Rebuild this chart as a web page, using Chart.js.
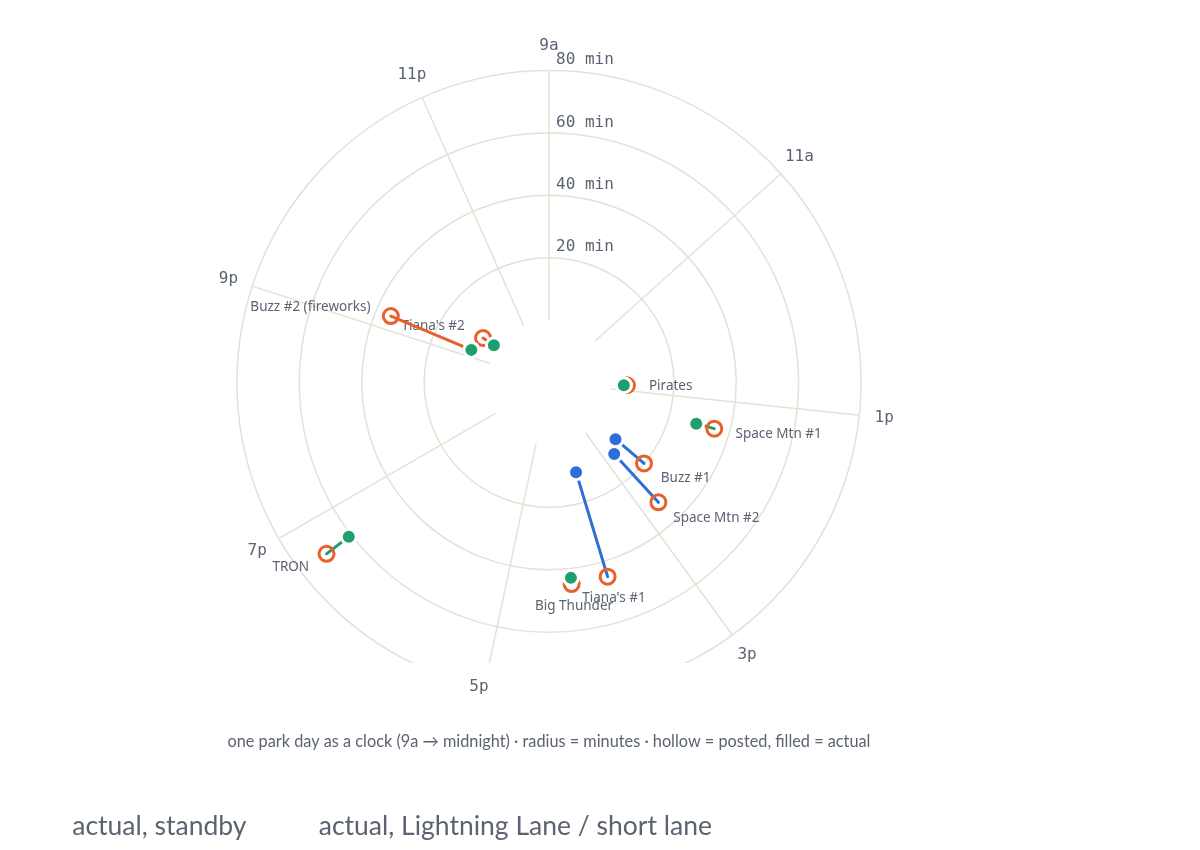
<!DOCTYPE html>
<html>
<head>
<meta charset="utf-8">
<script src="https://cdn.jsdelivr.net/npm/chart.js@4.4.1/dist/chart.umd.min.js"></script>
<style>
  html, body { margin: 0; background: #fff; }
  #wrap { width: 1200px; height: 850px; }
</style>
</head>
<body>
<div id="wrap"><canvas id="chart"></canvas></div>
<script>
// one park day, posted vs actual waits
const rides = ['Pirates', 'Space Mtn #1', 'Buzz #1', 'Space Mtn #2', "Tiana's #1", 'Big Thunder', 'TRON', 'Buzz #2 (fireworks)', "Tiana's #2"];
const times = ['12:50', '13:24', '14:26', '14:44', '15:48', '16:14', '18:41', '21:12', '21:40'];
const posted = [5, 35, 20, 32, 45, 45, 70, 35, 5.5];
const actual = [4, 29, 8, 11, 10, 43, 61, 7, 1.3];
const lanes = ['standby', 'standby', 'll', 'll', 'll', 'standby', 'standby', 'standby', 'standby'];
const hourTicks = ['9a', '11a', '1p', '3p', '5p', '7p', '9p', '11p'];
const hourTickAt = [9, 11, 13, 15, 17, 19, 21, 23];
const minuteTicks = [20, 40, 60, 80];

const GRID = '#e6e1d6', INK = '#5b6372';
const GREEN = '#1f9f6e', BLUE = '#2d6ed7', ORANGE = '#e8602c';
const DAY_START = 9, DAY_HOURS = 15, HOLE = 20, RMAX = 80;
// pixels per minute, clock centre, bottom of the plot
const PX = 3.12, CX = 549, CY = 382.5, BOTTOM = 663;

const hoursOf = (t) => { const [h, m] = t.split(':').map(Number); return h + m / 60; };
const angleOf = (h) => (h - DAY_START) / DAY_HOURS * 2 * Math.PI;
function polar(h, min) {
  const a = angleOf(h), r = min + HOLE;
  return { x: r * Math.sin(a), y: r * Math.cos(a) };
}

const idx = rides.map((_, i) => i);
const standby = idx.filter((i) => lanes[i] === 'standby');
const ll = idx.filter((i) => lanes[i] === 'll');

function lineColor(i) {
  if (lanes[i] === 'll') return BLUE;
  return actual[i] / posted[i] < 0.5 ? ORANGE : GREEN;
}

const clockGrid = {
  id: 'clockGrid',
  beforeDatasetsDraw(chart) {
    const { ctx, chartArea: area, scales: { x, y } } = chart;
    const px = (h, m) => { const p = polar(h, m); return { x: x.getPixelForValue(p.x), y: y.getPixelForValue(p.y) }; };
    const cx = x.getPixelForValue(0), cy = y.getPixelForValue(0);

    ctx.save();
    ctx.beginPath();
    ctx.rect(area.left, area.top, area.width, area.height);
    ctx.clip();
    ctx.strokeStyle = GRID;
    ctx.lineWidth = 1.5;
    minuteTicks.forEach((m) => {
      ctx.beginPath();
      ctx.arc(cx, cy, cy - px(DAY_START, m).y, 0, 2 * Math.PI);
      ctx.stroke();
    });
    hourTickAt.forEach((h) => {
      const a = px(h, 0), b = px(h, RMAX);
      ctx.beginPath(); ctx.moveTo(a.x, a.y); ctx.lineTo(b.x, b.y); ctx.stroke();
    });
    ctx.restore();

    ctx.save();
    ctx.fillStyle = INK;
    ctx.font = '16px "DejaVu Sans Mono"';
    ctx.textBaseline = 'middle';
    ctx.textAlign = 'left';
    minuteTicks.forEach((m) => ctx.fillText(m + ' min', cx + 7, px(DAY_START, m).y - 10.5));
    ctx.textAlign = 'center';
    hourTicks.forEach((lab, i) => {
      const a = angleOf(hourTickAt[i]), p = px(hourTickAt[i], RMAX);
      const ly = Math.min(p.y - 25 * Math.cos(a), area.bottom + 24);
      ctx.fillText(lab, p.x + 25 * Math.sin(a), ly);
    });

    // ride names next to the posted marker
    ctx.font = '13.5px "Noto Sans"';
    rides.forEach((name, i) => {
      const h = hoursOf(times[i]), a = angleOf(h), p = px(h, posted[i]);
      const s = Math.sin(a);
      ctx.textAlign = s > 0.5 ? 'left' : s < -0.5 ? 'right' : 'center';
      ctx.fillText(name, p.x + 22 * s, p.y - 22 * Math.cos(a));
    });
    ctx.restore();
  }
};

const datasets = [
  {
    label: 'actual, standby',
    data: standby.map((i) => polar(hoursOf(times[i]), actual[i])),
    backgroundColor: GREEN, borderColor: '#fff', borderWidth: 3, pointRadius: 7.5
  },
  {
    label: 'actual, Lightning Lane / short lane',
    data: ll.map((i) => polar(hoursOf(times[i]), actual[i])),
    backgroundColor: BLUE, borderColor: '#fff', borderWidth: 3, pointRadius: 7.5
  },
  {
    label: 'posted',
    data: idx.map((i) => polar(hoursOf(times[i]), posted[i])),
    backgroundColor: 'rgba(0,0,0,0)', borderColor: ORANGE, borderWidth: 3, pointRadius: 7.5
  },
  ...idx.map((i) => ({
    label: rides[i],
    data: [polar(hoursOf(times[i]), posted[i]), polar(hoursOf(times[i]), actual[i])],
    showLine: true, borderColor: lineColor(i), borderWidth: 3, borderCapStyle: 'round',
    pointRadius: 0
  }))
];

new Chart(document.getElementById('chart'), {
  type: 'scatter',
  data: { datasets },
  plugins: [clockGrid],
  options: {
    responsive: true,
    maintainAspectRatio: false,
    animation: false,
    events: [],
    layout: { autoPadding: false, padding: { left: 0, right: 1200 - 2 * CX, top: 0, bottom: 0 } },
    scales: {
      x: { type: 'linear', display: false, min: -CX / PX, max: CX / PX },
      y: { type: 'linear', display: false, min: -(BOTTOM - CY) / PX, max: CY / PX }
    },
    plugins: {
      tooltip: { enabled: false },
      subtitle: {
        display: true,
        position: 'bottom',
        weight: 500,
        text: 'one park day as a clock (9a → midnight) · radius = minutes · hollow = posted, filled = actual',
        color: INK,
        font: { family: 'Lato', size: 16.3 },
        padding: { top: 69.2, bottom: 51.7 }
      },
      legend: {
        position: 'bottom',
        align: 'start',
        labels: {
          filter: (item) => item.datasetIndex < 2,
          generateLabels: (c) => Chart.defaults.plugins.legend.labels.generateLabels(c)
            .map((l) => ({ ...l, fillStyle: 'rgba(0,0,0,0)', strokeStyle: 'rgba(0,0,0,0)', lineWidth: 0 })),
          boxWidth: 49,
          boxHeight: 1,
          padding: 10,
          color: INK,
          font: { family: 'Lato', size: 26.5 }
        }
      }
    }
  }
});
</script>
</body>
</html>
